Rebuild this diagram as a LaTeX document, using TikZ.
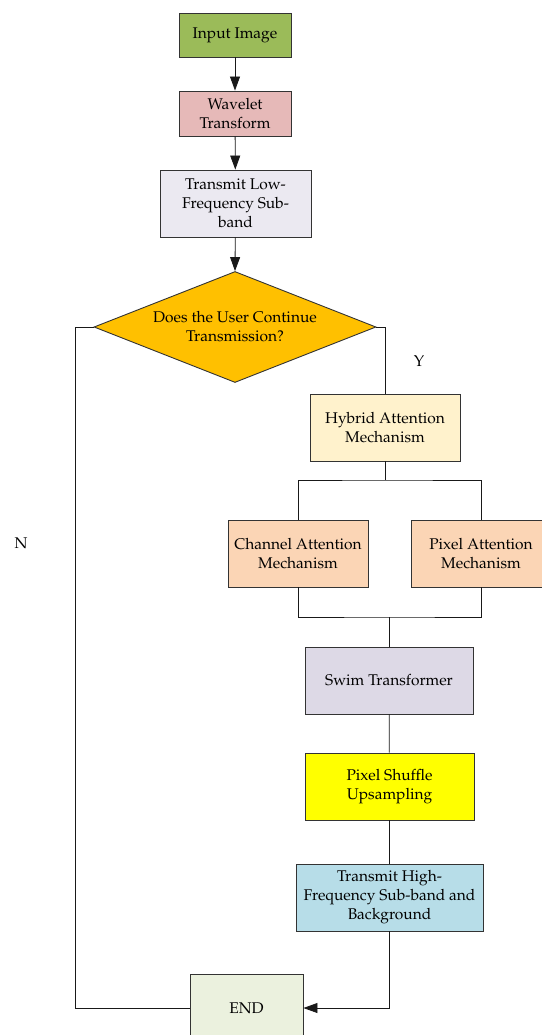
\documentclass[tikz,border=0pt]{standalone}
\usepackage[T1]{fontenc}
\usepackage{mathpazo}
\usetikzlibrary{shapes.geometric,arrows.meta}
\definecolor{cInput}{HTML}{9BBB59}
\definecolor{cWave}{HTML}{E6B9B8}
\definecolor{cLow}{HTML}{EBE9F1}
\definecolor{cDec}{HTML}{FFC000}
\definecolor{cHyb}{HTML}{FFF2CC}
\definecolor{cAtt}{HTML}{FBD5B5}
\definecolor{cSwim}{HTML}{DDD9E6}
\definecolor{cShuf}{HTML}{FFFF00}
\definecolor{cHigh}{HTML}{B7DDE8}
\definecolor{cEnd}{HTML}{EBF1DE}
\begin{document}
\begin{tikzpicture}[x=1pt,y=-1pt,
  box/.style={draw=black!80, line width=0.9pt, minimum height=67pt, align=center, inner sep=0pt, font=\fontsize{15.5}{19}\selectfont},
  line/.style={draw=black!90, line width=0.8pt},
  arr/.style={line, -{Triangle[length=14pt,width=10pt]}},
  lab/.style={font=\fontsize{15.5}{19}\selectfont}]
\useasboundingbox (0,0) rectangle (541,1035);
\node[box, fill=cInput, minimum width=112pt, minimum height=44pt] (input) at (235,35) {Input Image};
\node[box, fill=cWave, minimum width=112pt, minimum height=45pt] (wave) at (235,113.5) {Wavelet\\Transform};
\node[box, fill=cLow, minimum width=151pt] (low) at (235.5,203.5) {Transmit Low-\\Frequency Sub-\\band};
\node[diamond, aspect=2.54, draw=black!80, line width=0.9pt, fill=cDec, align=center, inner sep=0pt, minimum width=282pt, minimum height=111pt, font=\fontsize{15.5}{19}\selectfont] (dec) at (235,327) {Does the User Continue\\Transmission?};
\node[box, fill=cHyb, minimum width=150pt] (hyb) at (385,427.5) {Hybrid Attention\\Mechanism};
\node[box, fill=cAtt, minimum width=140pt] (ch) at (298,553.5) {Channel Attention\\Mechanism};
\node[box, fill=cAtt, minimum width=140pt] (px) at (481,553.5) {Pixel Attention\\Mechanism};
\node[box, fill=cSwim, minimum width=168pt] (swim) at (389,680.5) {Swim Transformer};
\node[box, fill=cShuf, minimum width=169pt] (shuf) at (389.5,786.5) {Pixel Shuffle\\Upsampling};
\node[box, fill=cHigh, minimum width=187pt] (high) at (389.5,897.5) {Transmit High-\\Frequency Sub-band and\\Background};
\node[box, fill=cEnd, minimum width=113pt] (end) at (246.5,1008) {END};
\node[lab] (ylab) at (419,361) {Y};
\node[lab] (nlab) at (21,543) {N};
\coordinate (s1) at (385,480);
\coordinate (j1) at (389,617);
\coordinate (nl) at (75,1008);
\draw[arr] (input) -- (wave);
\draw[arr] (wave) -- (low);
\draw[arr] (low) -- (dec.north);
\draw[line] (dec.east) -| (hyb.north);
\draw[line] (hyb.south) -- (s1);
\draw[line] (ch.north) |- (s1) -| (px.north);
\draw[line] (ch.south) |- (j1) -| (px.south);
\draw[line] (j1) -- (swim.north);
\draw[line] (swim) -- (shuf);
\draw[line] (shuf) -- (high);
\draw[arr] (high.south) |- (end.east);
\draw[line] (dec.west) -| (nl) -- (end.west);
\end{tikzpicture}
\end{document}
